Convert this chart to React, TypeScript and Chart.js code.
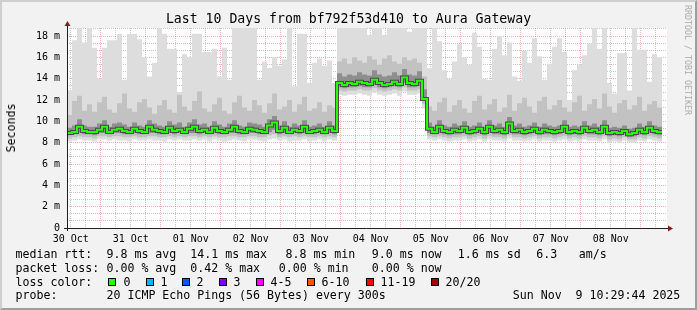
import React, { useEffect, useRef } from 'react';
import { Chart, registerables } from 'chart.js';

Chart.register(...registerables);

// ---- time axis (hours after Oct 30 10:30) ----
const STEP_HOURS = 2;
const RANGE_HOURS = 240;
const FIRST_NOON = 1.5;
const FIRST_MIDNIGHT = 13.5;
const Y_MAX = 18.75;

const dayLabels = ['30 Oct', '31 Oct', '01 Nov', '02 Nov', '03 Nov', '04 Nov', '05 Nov', '06 Nov', '07 Nov', '08 Nov'];
const yTickLabels = ['0', '2 m', '4 m', '6 m', '8 m', '10 m', '12 m', '14 m', '16 m', '18 m'];

// ---- round trip times in milliseconds, one value per 2 hours ----
const rttMedian = [
  9.1, 8.9, 9.0, 9.5, 9.1, 9.0, 9.0, 9.2, 9.5, 9.0,
  9.2, 9.3, 9.1, 9.0, 9.3, 9.1, 9.0, 9.5, 9.2, 9.1,
  9.0, 9.4, 9.1, 9.2, 9.0, 9.3, 9.5, 9.1, 9.2, 9.0,
  9.4, 9.1, 9.0, 9.2, 9.5, 9.1, 9.0, 9.3, 9.2, 9.1,
  9.0, 9.6, 9.9, 9.1, 9.4, 9.0, 9.2, 9.1, 9.5, 9.0,
  9.1, 9.2, 9.0, 9.4, 9.1, 13.6, 13.4, 13.6, 13.5, 13.7,
  13.6, 13.5, 13.9, 13.6, 13.4, 13.5, 13.7, 13.5, 14.1, 13.6,
  13.5, 13.8, 12.1, 9.3, 9.0, 9.5, 9.1, 9.0, 9.2, 9.1,
  9.4, 9.0, 9.1, 9.3, 9.0, 9.5, 9.1, 9.2, 9.0, 9.8,
  9.1, 9.2, 9.0, 9.1, 9.3, 9.0, 9.2, 9.1, 9.0, 9.1,
  9.5, 9.0, 9.1, 9.0, 9.4, 9.1, 9.2, 9.0, 9.5, 8.9,
  9.0, 8.9, 9.1, 8.8, 8.9, 9.2, 9.0, 9.4, 9.1, 9.0,
];

const rttMax = [
  15.1, 12.9, 17.6, 18.75, 17.4, 18.75, 16.9, 14.0, 16.9, 17.6,
  17.6, 18.2, 13.9, 18.2, 18.2, 17.7, 16.0, 14.2, 15.5, 18.75,
  18.2, 16.8, 16.8, 12.7, 16.3, 16.0, 18.2, 18.2, 16.5, 16.5,
  16.8, 14.2, 16.9, 13.9, 18.75, 18.75, 18.75, 18.75, 18.75, 13.9,
  15.6, 15.0, 16.0, 15.2, 15.8, 18.75, 13.3, 18.2, 18.2, 13.6,
  15.5, 15.9, 15.2, 15.7, 13.6, 18.75, 18.75, 18.75, 18.75, 18.75,
  18.75, 18.1, 18.75, 18.75, 18.1, 18.75, 18.75, 18.75, 18.75, 18.4,
  18.75, 18.75, 18.75, 15.0, 18.75, 17.5, 14.8, 14.0, 15.6, 17.2,
  16.0, 15.3, 18.3, 17.0, 14.0, 13.9, 16.8, 18.0, 16.2, 17.4,
  14.2, 13.8, 16.6, 15.5, 17.8, 16.1, 13.9, 15.4, 17.0, 17.8,
  16.5, 12.0, 14.8, 15.3, 16.2, 17.3, 18.75, 16.8, 18.75, 13.6,
  12.6, 16.4, 16.4, 12.9, 18.75, 16.7, 16.7, 13.7, 16.3, 16.0,
];

const rttP90 = [
  11.3, 10.6, 11.9, 12.4, 11.0, 11.6, 10.9, 11.8, 12.3, 11.1,
  10.8, 11.7, 12.6, 11.2, 10.9, 11.8, 12.1, 11.3, 10.7, 11.5,
  12.0, 11.1, 10.8, 12.5, 11.4, 11.0, 11.9, 12.8, 11.2, 10.9,
  11.6, 12.2, 11.0, 10.7, 11.8, 12.4, 11.3, 11.0, 12.0, 11.5,
  10.8, 11.7, 12.6, 11.1, 11.4, 12.0, 10.9, 11.6, 12.3, 11.0,
  11.2, 11.8, 10.9, 11.5, 11.3, 15.6, 15.9, 15.4, 16.0, 15.7,
  15.5, 16.1, 15.8, 15.3, 15.9, 16.2, 15.6, 15.4, 16.0, 15.7,
  15.9, 15.5, 14.2, 11.4, 11.0, 11.8, 12.2, 10.9, 11.5, 12.0,
  11.2, 10.8, 11.9, 12.4, 11.1, 11.6, 12.1, 10.9, 11.3, 12.5,
  11.0, 11.7, 12.2, 11.4, 10.8, 11.9, 12.3, 11.1, 11.5, 12.0,
  11.3, 10.9, 11.8, 12.4, 11.0, 11.6, 12.1, 11.2, 12.6, 11.4,
  10.8, 11.7, 12.0, 11.1, 11.5, 12.3, 11.0, 11.6, 11.9, 11.3,
];

const rttP75 = [
  9.7, 9.4, 9.6, 10.2, 9.6, 9.5, 9.5, 9.8, 10.1, 9.5,
  9.8, 9.9, 9.7, 9.5, 9.9, 9.6, 9.5, 10.1, 9.8, 9.6,
  9.5, 10.0, 9.7, 9.9, 9.5, 9.9, 10.2, 9.7, 9.8, 9.5,
  10.0, 9.7, 9.5, 9.8, 10.1, 9.6, 9.5, 9.9, 9.8, 9.7,
  9.5, 10.2, 10.5, 9.6, 10.0, 9.5, 9.8, 9.6, 10.1, 9.5,
  9.6, 9.8, 9.5, 10.0, 9.6, 14.5, 14.2, 14.4, 14.3, 14.6,
  14.4, 14.3, 14.8, 14.4, 14.2, 14.3, 14.6, 14.3, 14.9, 14.4,
  14.3, 14.7, 13.0, 9.9, 9.5, 10.1, 9.6, 9.5, 9.8, 9.6,
  10.0, 9.5, 9.6, 9.9, 9.5, 10.1, 9.6, 9.8, 9.5, 10.4,
  9.6, 9.8, 9.5, 9.6, 9.9, 9.5, 9.8, 9.6, 9.5, 9.6,
  10.1, 9.5, 9.6, 9.5, 10.0, 9.6, 9.8, 9.5, 10.1, 9.4,
  9.5, 9.4, 9.6, 9.3, 9.4, 9.8, 9.5, 10.0, 9.6, 9.5,
];

const rttP25 = [
  8.8, 8.7, 8.8, 8.9, 8.8, 8.8, 8.7, 8.9, 8.9, 8.8,
  8.9, 8.9, 8.8, 8.8, 8.9, 8.8, 8.8, 8.9, 8.9, 8.8,
  8.8, 8.9, 8.8, 8.9, 8.8, 8.9, 8.9, 8.8, 8.9, 8.8,
  8.9, 8.8, 8.8, 8.9, 8.9, 8.8, 8.8, 8.9, 8.9, 8.8,
  8.8, 9.0, 9.2, 8.8, 8.9, 8.8, 8.9, 8.8, 8.9, 8.8,
  8.8, 8.9, 8.8, 8.9, 8.8, 13.2, 13.1, 13.2, 13.2, 13.3,
  13.2, 13.2, 13.4, 13.2, 13.1, 13.2, 13.3, 13.2, 13.6, 13.2,
  13.2, 13.3, 11.9, 8.9, 8.8, 8.9, 8.8, 8.7, 8.8, 8.8,
  8.9, 8.7, 8.8, 8.9, 8.7, 8.9, 8.8, 8.8, 8.7, 9.0,
  8.8, 8.8, 8.7, 8.8, 8.9, 8.7, 8.8, 8.8, 8.7, 8.8,
  8.9, 8.7, 8.8, 8.7, 8.9, 8.8, 8.8, 8.7, 8.9, 8.6,
  8.7, 8.6, 8.8, 8.5, 8.6, 8.8, 8.7, 8.9, 8.8, 8.7,
];

const rttP10 = [
  8.5, 8.4, 8.5, 8.6, 8.5, 8.5, 8.4, 8.6, 8.6, 8.5,
  8.6, 8.6, 8.5, 8.5, 8.6, 8.5, 8.5, 8.6, 8.6, 8.5,
  8.5, 8.6, 8.5, 8.6, 8.5, 8.6, 8.6, 8.5, 8.6, 8.5,
  8.6, 8.5, 8.5, 8.6, 8.6, 8.5, 8.5, 8.6, 8.6, 8.5,
  8.5, 8.7, 8.8, 8.5, 8.6, 8.5, 8.6, 8.5, 8.6, 8.5,
  8.5, 8.6, 8.5, 8.6, 8.5, 12.9, 12.8, 12.9, 12.9, 13.0,
  12.9, 12.9, 13.1, 12.9, 12.8, 12.9, 13.0, 12.9, 13.2, 12.9,
  12.9, 13.0, 11.6, 8.6, 8.5, 8.6, 8.5, 8.4, 8.5, 8.5,
  8.6, 8.4, 8.5, 8.6, 8.4, 8.6, 8.5, 8.5, 8.4, 8.7,
  8.5, 8.5, 8.4, 8.5, 8.6, 8.4, 8.5, 8.5, 8.4, 8.5,
  8.6, 8.4, 8.5, 8.4, 8.6, 8.5, 8.5, 8.4, 8.6, 8.3,
  8.4, 8.3, 8.5, 8.3, 8.3, 8.5, 8.4, 8.6, 8.5, 8.4,
];

const rttMin = [
  8.2, 8.1, 8.2, 8.3, 8.2, 8.2, 8.1, 8.3, 8.3, 8.2,
  8.3, 8.2, 8.2, 8.1, 8.3, 8.2, 8.2, 8.3, 8.2, 8.2,
  8.1, 8.3, 8.2, 8.3, 8.2, 8.2, 8.3, 8.2, 8.3, 8.1,
  8.3, 8.2, 8.1, 8.2, 8.3, 8.2, 8.1, 8.3, 8.3, 8.2,
  8.1, 8.3, 8.4, 8.2, 8.3, 8.1, 8.2, 8.2, 8.3, 8.1,
  8.2, 8.3, 8.1, 8.3, 8.2, 12.5, 12.4, 12.5, 12.5, 12.6,
  12.5, 12.4, 12.7, 12.5, 12.4, 12.5, 12.6, 12.4, 12.8, 12.5,
  12.5, 12.6, 11.2, 8.3, 8.2, 8.3, 8.2, 8.1, 8.2, 8.2,
  8.3, 8.1, 8.2, 8.3, 8.1, 8.3, 8.2, 8.2, 8.1, 8.4,
  8.2, 8.2, 8.1, 8.2, 8.3, 8.1, 8.2, 8.2, 8.1, 8.2,
  8.3, 8.1, 8.2, 8.1, 8.3, 8.2, 8.2, 8.1, 8.3, 8.0,
  8.1, 8.0, 8.2, 8.0, 8.0, 8.2, 8.1, 8.3, 8.2, 8.1,
];

// ---- legend ----
const lossLabels = ['0', '1', '2', '3', '4-5', '6-10', '11-19', '20/20'];
const lossColors = ['#26ff00', '#00b8ff', '#0059ff', '#7e00ff', '#ff00ff', '#ff5500', '#ff0000', '#a10000'];
const rttStats = ['9.8 ms avg', '14.1 ms max', '8.8 ms min', '9.0 ms now', '1.6 ms sd', '6.3', 'am/s'];
const lossStats = ['0.00 % avg', '0.42 % max', '0.00 % min', '0.00 % now'];
const titleText = 'Last 10 Days from bf792f53d410 to Aura Gateway';
const probeText = '20 ICMP Echo Pings (56 Bytes) every 300s';
const dateText = 'Sun Nov  9 10:29:44 2025';

const MONO = '"DejaVu Sans Mono", monospace';
const GRID = 'rgba(143,143,143,0.5)';
const MGRID = 'rgba(222,79,79,0.42)';

const framePlugin = {
  id: 'rrdFrame',
  beforeDraw(chart: any) {
    const { ctx, chartArea: a } = chart;
    ctx.save();
    ctx.fillStyle = '#ffffff';
    ctx.fillRect(a.left, a.top, a.right - a.left, a.bottom - a.top);
    ctx.restore();
  },
  afterDraw(chart: any) {
    const { ctx, chartArea: a } = chart;
    ctx.save();
    ctx.strokeStyle = '#1f1f1f';
    ctx.lineWidth = 1;
    ctx.beginPath();
    ctx.moveTo(a.left - 3, a.bottom + 0.5);
    ctx.lineTo(a.right + 2, a.bottom + 0.5);
    ctx.moveTo(a.left + 0.5, a.bottom + 3);
    ctx.lineTo(a.left + 0.5, a.top - 2);
    ctx.stroke();
    ctx.fillStyle = '#801f1f';
    ctx.beginPath();
    ctx.moveTo(a.right + 1, a.bottom - 2.5);
    ctx.lineTo(a.right + 6, a.bottom + 0.5);
    ctx.lineTo(a.right + 1, a.bottom + 3.5);
    ctx.closePath();
    ctx.fill();
    ctx.beginPath();
    ctx.moveTo(a.left - 2.5, a.top - 2);
    ctx.lineTo(a.left + 0.5, a.top - 7);
    ctx.lineTo(a.left + 3.5, a.top - 2);
    ctx.closePath();
    ctx.fill();
    ctx.restore();
  },
};

function near(v: number) {
  return Math.abs(v - Math.round(v)) < 1e-6;
}

export default function App() {
  const canvasRef = useRef<HTMLCanvasElement | null>(null);

  useEffect(() => {
    document.body.style.margin = '0';
    const canvas = canvasRef.current;
    if (!canvas) return;
    const pts = (arr: number[]) => arr.map((v, i) => ({ x: i * STEP_HOURS, y: v }));
    const base: any = { pointRadius: 0, pointHoverRadius: 0, stepped: 'after', tension: 0 };
    const band: any = { ...base, borderColor: 'transparent', borderWidth: 0 };

    const xTicks: number[] = [];
    for (let t = FIRST_NOON; t < RANGE_HOURS; t += 6) xTicks.push(t);
    const yTicks: number[] = [];
    for (let j = 0; (j * 2) / 3 < Y_MAX; j++) yTicks.push((j * 2) / 3);

    const chart = new Chart(canvas, {
      type: 'line',
      data: {
        datasets: [
          { ...band, label: 'min', data: pts(rttMin), fill: false, order: 20 },
          { ...band, label: 'max', data: pts(rttMax), backgroundColor: '#dddddd', fill: 0, order: 19 },
          { ...band, label: 'p10', data: pts(rttP10), fill: false, order: 18 },
          { ...band, label: 'p90', data: pts(rttP90), backgroundColor: '#c2c2c2', fill: 2, order: 17 },
          { ...band, label: 'p25', data: pts(rttP25), fill: false, order: 16 },
          { ...band, label: 'p75', data: pts(rttP75), backgroundColor: '#8e8e8e', fill: 4, order: 15 },
          { ...base, label: 'core', data: pts(rttMedian), borderColor: '#4a4a4a', borderWidth: 4, fill: false, order: 5 },
          { ...base, label: 'median', data: pts(rttMedian), borderColor: '#26ff00', borderWidth: 2, fill: false, order: 1 },
        ],
      },
      options: {
        responsive: false,
        animation: false,
        events: [],
        layout: { padding: { left: 0, right: 30, top: 28, bottom: 0 } },
        plugins: { legend: { display: false }, tooltip: { enabled: false }, title: { display: false } },
        scales: {
          x: {
            type: 'linear',
            min: 0,
            max: RANGE_HOURS,
            z: 1,
            afterBuildTicks: (s: any) => {
              s.ticks = xTicks.map((v) => ({ value: v }));
            },
            afterFit: (s: any) => {
              s.height = 82;
            },
            border: { display: false, dash: [1, 1] },
            grid: {
              drawTicks: false,
              lineWidth: 1,
              color: (c: any) => {
                const v = c.tick ? c.tick.value : 0;
                return near((v - FIRST_MIDNIGHT) / 24) ? MGRID : GRID;
              },
            },
            ticks: {
              autoSkip: false,
              maxRotation: 0,
              minRotation: 0,
              padding: 5,
              color: '#000000',
              font: { family: MONO, size: 10 },
              callback: (value: any) => {
                const d = (Number(value) - FIRST_NOON) / 24;
                return near(d) ? dayLabels[Math.round(d)] ?? '' : '';
              },
            },
          },
          y: {
            type: 'linear',
            min: 0,
            max: Y_MAX,
            z: 1,
            afterBuildTicks: (s: any) => {
              s.ticks = yTicks.map((v) => ({ value: v }));
            },
            afterFit: (s: any) => {
              s.width = 67;
            },
            border: { display: false, dash: [1, 1] },
            grid: {
              drawTicks: false,
              lineWidth: 1,
              color: (c: any) => {
                const v = c.tick ? c.tick.value : 0;
                return near(v / 2) ? MGRID : GRID;
              },
            },
            ticks: {
              autoSkip: false,
              padding: 7,
              color: '#000000',
              font: { family: MONO, size: 10 },
              callback: (value: any) => {
                const k = Number(value) / 2;
                return near(k) ? yTickLabels[Math.round(k)] ?? '' : '';
              },
            },
          },
        },
      } as any,
      plugins: [framePlugin],
    });
    return () => chart.destroy();
  }, []);

  const legendFont = 11.6;
  const rowTop = [247.3, 261.0, 274.7, 288.4];
  const txt = (left: number, top: number, s: string, key: string) => (
    <div
      key={key}
      style={{ position: 'absolute', left, top, fontSize: legendFont, lineHeight: '14px', whiteSpace: 'pre' }}
    >
      {s}
    </div>
  );
  const rttX = [106.5, 190.3, 285.5, 371.8, 457.8, 536.3, 578.8];
  const lossX = [106.5, 190.3, 278.8, 371.8];
  const boxX = [108, 146, 182, 219, 256, 307, 366, 431];
  const boxTextX = [123.5, 160.5, 196.5, 233.5, 270.5, 321.5, 380.5, 445.5];

  return (
    <div
      style={{
        position: 'fixed',
        left: 0,
        top: 0,
        width: 697,
        height: 310,
        background: '#f2f2f2',
        overflow: 'hidden',
        fontFamily: MONO,
        color: '#000',
      }}
    >
      <canvas ref={canvasRef} width={697} height={310} style={{ position: 'absolute', left: 0, top: 0, display: 'block' }} />
      <div
        style={{
          position: 'absolute',
          left: 0,
          width: 697,
          top: 11.4,
          textAlign: 'center',
          fontSize: 13.2,
          lineHeight: '16px',
          whiteSpace: 'pre',
        }}
      >
        {titleText}
      </div>
      <div
        style={{
          position: 'absolute',
          left: 11,
          top: 128,
          transform: 'translate(-50%, -50%) rotate(-90deg)',
          fontSize: legendFont,
          lineHeight: '14px',
          whiteSpace: 'pre',
        }}
      >
        Seconds
      </div>
      <div
        style={{
          position: 'absolute',
          left: 688,
          top: 60,
          transform: 'translate(-50%, -50%) rotate(90deg)',
          fontSize: 8.3,
          lineHeight: '10px',
          whiteSpace: 'pre',
          color: '#aaaaaa',
        }}
      >
        RRDTOOL / TOBI OETIKER
      </div>
      {txt(15.5, rowTop[0], 'median rtt:', 'r0')}
      {rttStats.map((s, i) => txt(rttX[i], rowTop[0], s, 'rs' + i))}
      {txt(15.5, rowTop[1], 'packet loss:', 'l0')}
      {lossStats.map((s, i) => txt(lossX[i], rowTop[1], s, 'ls' + i))}
      {txt(15.5, rowTop[2], 'loss color:', 'c0')}
      {lossLabels.map((s, i) => (
        <React.Fragment key={'lc' + i}>
          <div
            style={{
              position: 'absolute',
              left: boxX[i],
              top: 278,
              width: 8,
              height: 8,
              boxSizing: 'border-box',
              border: '1px solid #000',
              background: lossColors[i],
            }}
          />
          {txt(boxTextX[i], rowTop[2], s, 'lt' + i)}
        </React.Fragment>
      ))}
      {txt(15.5, rowTop[3], 'probe:', 'p0')}
      {txt(106.5, rowTop[3], probeText, 'p1')}
      {txt(512.8, rowTop[3], dateText, 'p2')}
      <div
        style={{
          position: 'absolute',
          left: 0,
          top: 0,
          width: 697,
          height: 310,
          boxSizing: 'border-box',
          borderStyle: 'solid',
          borderWidth: 2,
          borderColor: '#cfcfcf #9e9e9e #9e9e9e #cfcfcf',
          pointerEvents: 'none',
        }}
      />
    </div>
  );
}
